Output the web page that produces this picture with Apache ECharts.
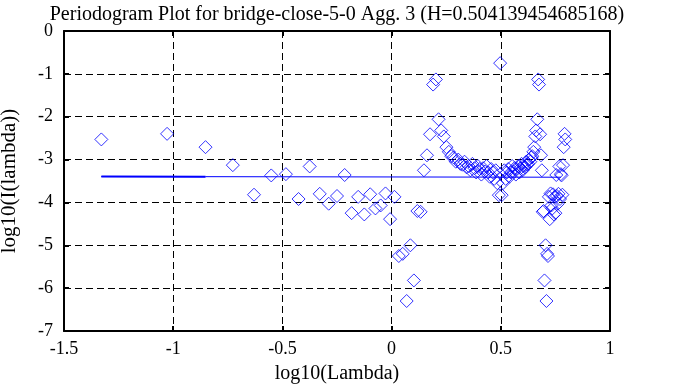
<!DOCTYPE html>
<html>
<head>
<meta charset="utf-8">
<script src="https://cdn.jsdelivr.net/npm/echarts@6/dist/echarts.min.js"></script>
<style>html,body{margin:0;padding:0;background:#fff}#c{width:674px;height:387px}</style>
</head>
<body>
<div id="c"></div>
<script>
var titleText = 'Periodogram Plot for bridge-close-5-0 Agg. 3 (H=0.504139454685168)';
var xName = 'log10(Lambda)';
var yName = 'log10(I(lambda))';
var xTicks = [-1.5, -1, -0.5, 0, 0.5, 1];
var yTicks = [0, -1, -2, -3, -4, -5, -6, -7];

var logLambda = [
-1.329,-1.028,-0.852,-0.727,-0.630,-0.551,-0.484,-0.426,-0.375,-0.329,
-0.288,-0.250,-0.215,-0.183,-0.153,-0.125,-0.098,-0.074,-0.050,-0.028,
-0.007,0.013,0.033,0.051,0.069,0.086,0.102,0.118,0.133,0.148,
0.162,0.176,0.190,0.203,0.215,0.227,0.239,0.251,0.262,0.273,
0.284,0.294,0.305,0.315,0.324,0.334,0.343,0.352,0.361,0.370,
0.379,0.387,0.395,0.403,0.411,0.419,0.427,0.435,0.442,0.449,
0.456,0.463,0.470,0.477,0.484,0.491,0.497,0.504,0.510,0.516,
0.522,0.528,0.534,0.540,0.546,0.552,0.558,0.563,0.569,0.574,
0.580,0.585,0.590,0.595,0.600,0.606,0.611,0.616,0.620,0.625,
0.630,0.635,0.640,0.644,0.649,0.653,0.658,0.662,0.667,0.671,
0.675,0.680,0.684,0.688,0.692,0.696,0.700,0.705,0.709,0.712,
0.716,0.720,0.724,0.728,0.732,0.736,0.739,0.743,0.747,0.750,
0.754,0.757,0.761,0.764,0.768,0.771,0.775,0.778,0.782,0.785,
0.788,0.792,0.795
];
var logI = [
-2.53,-2.40,-2.71,-3.13,-3.82,-3.37,-3.34,-3.92,-3.16,-3.80,
-4.03,-3.85,-3.36,-4.25,-3.87,-4.28,-3.81,-4.14,-4.07,-3.79,
-4.39,-3.87,-5.25,-5.20,-6.30,-5.00,-5.82,-4.20,-4.22,-3.25,
-2.90,-2.41,-1.25,-1.13,-2.06,-2.32,-2.46,-2.71,-2.82,-2.92,
-2.95,-3.05,-3.00,-3.10,-3.12,-3.05,-3.18,-3.15,-3.25,-3.10,
-3.20,-3.30,-3.15,-3.22,-3.35,-3.20,-3.28,-3.15,-3.30,-3.40,
-3.22,-3.30,-3.45,-3.25,-3.55,-3.83,-0.75,-3.83,-3.55,-3.25,
-3.45,-3.30,-3.22,-3.40,-3.30,-3.15,-3.28,-3.20,-3.35,-3.22,
-3.15,-3.30,-3.20,-3.10,-3.25,-3.15,-3.18,-3.05,-3.12,-3.10,
-3.00,-3.05,-2.95,-2.92,-2.82,-2.71,-2.46,-2.32,-2.06,-1.13,
-1.25,-2.41,-2.90,-3.25,-4.22,-4.20,-5.82,-5.00,-6.30,-5.20,
-5.25,-3.87,-4.39,-3.79,-4.07,-4.14,-3.81,-4.28,-3.87,-4.25,
-3.36,-3.85,-4.03,-3.80,-3.16,-3.92,-3.34,-3.37,-3.82,-3.13,
-2.71,-2.40,-2.53
];
var fitX = [-1.329, -0.852, 0.775];
var fitY = [-3.395, -3.399, -3.412];

var FONT = 'Liberation Serif';
var pts = logLambda.map(function (x, i) { return [x, logI[i]]; });
var fit = fitX.map(function (x, i) { return [x, fitY[i]]; });

var chart = echarts.init(document.getElementById('c'), null, {renderer: 'canvas'});
var gridLeft = 64, gridTop = 31, gridW = 546, gridH = 300;
function axisBase(extra) {
  var o = {
    axisLine: {show: true, onZero: false, lineStyle: {color: '#000', width: 2}},
    axisTick: {show: true, inside: true, length: 5, lineStyle: {color: '#000', width: 2}},
    splitLine: {show: false},
    axisLabel: {show: false}
  };
  for (var k in extra) o[k] = extra[k];
  return o;
}
chart.setOption({
  animation: false,
  backgroundColor: '#fff',
  title: {
    text: titleText, left: 'center', top: 0,
    textStyle: {fontFamily: FONT, fontSize: 20, fontWeight: 'normal', color: '#000'}
  },
  grid: {left: gridLeft, top: gridTop, width: gridW, height: gridH, show: false,
         containLabel: false, outerBoundsMode: 'none'},
  xAxis: [
    axisBase({
      type: 'value', position: 'bottom', min: xTicks[0], max: xTicks[xTicks.length - 1], interval: 0.5,
      name: xName, nameLocation: 'middle', nameGap: 33,
      nameTextStyle: {fontFamily: FONT, fontSize: 20, color: '#000'},
      axisLabel: {show: true, fontFamily: FONT, fontSize: 18, color: '#000', margin: 9},
      splitLine: {show: true, lineStyle: {color: '#000', width: 1, type: [7, 4]}}
    }),
    axisBase({type: 'value', position: 'top', min: xTicks[0], max: xTicks[xTicks.length - 1], interval: 0.5})
  ],
  yAxis: [
    axisBase({
      type: 'value', position: 'left', min: yTicks[yTicks.length - 1], max: yTicks[0], interval: 1,
      name: yName, nameLocation: 'middle', nameGap: 44,
      nameTextStyle: {fontFamily: FONT, fontSize: 21, color: '#000'},
      axisLabel: {show: true, fontFamily: FONT, fontSize: 18, color: '#000', margin: 11},
      splitLine: {show: true, lineStyle: {color: '#000', width: 1, type: [7, 4]}}
    }),
    axisBase({type: 'value', position: 'right', min: yTicks[yTicks.length - 1], max: yTicks[0], interval: 1})
  ],
  series: [
    {
      type: 'scatter', data: pts, symbol: 'diamond', symbolSize: 13, silent: true,
      itemStyle: {color: 'rgba(0,0,0,0)', borderColor: '#0000ff', borderWidth: 1}
    },
    {
      type: 'line', data: fit, symbol: 'none', silent: true,
      lineStyle: {color: '#0000ff', width: 1}
    },
    {
      type: 'line', data: fit.slice(0, 2), symbol: 'none', silent: true,
      lineStyle: {color: '#0000ff', width: 2}
    }
  ]
});
</script>
</body>
</html>
